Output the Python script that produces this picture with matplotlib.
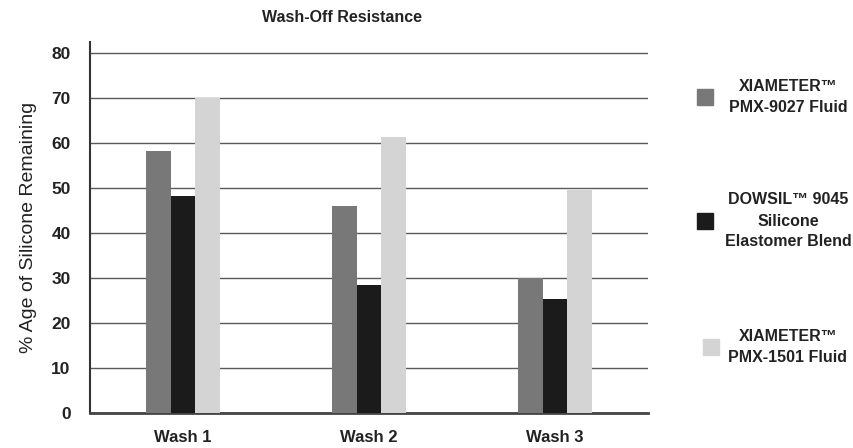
import matplotlib
matplotlib.use("Agg")
import matplotlib.pyplot as plt
from matplotlib.patches import Rectangle
from matplotlib import font_manager
import numpy as np

washes = ["Wash 1", "Wash 2", "Wash 3"]
pmx9027 = [58.2, 46.0, 29.9]
dowsil9045 = [48.2, 28.4, 25.3]
pmx1501 = [70.0, 61.2, 49.4]
series_names = ["XIAMETER\u2122\nPMX-9027 Fluid",
                "DOWSIL\u2122 9045\nSilicone\nElastomer Blend",
                "XIAMETER\u2122\nPMX-1501 Fluid"]
colors = ["#787878", "#1b1b1b", "#d4d4d4"]

names = {f.name for f in font_manager.fontManager.ttflist}
fam = "Liberation Sans Narrow" if "Liberation Sans Narrow" in names else "Liberation Sans"
plt.rcParams['font.family'] = [fam, 'DejaVu Sans']

fig = plt.figure(figsize=(8.54, 4.48), dpi=100)
ax = fig.add_axes([0.1054, 0.0781, 0.6534, 0.8288])

x = np.arange(len(washes))
w = 0.132
for i, vals in enumerate([pmx9027, dowsil9045, pmx1501]):
    ax.bar(x + (i - 1) * w, vals, width=w, color=colors[i], zorder=3)

ax.set_xlim(-0.5, 2.5)
ax.set_ylim(0, 82.4)
ax.set_yticks(range(0, 81, 10))
ax.set_xticks(x)
ax.set_xticklabels(washes, fontsize=12, fontweight='bold', color='#222222')
for lbl in ax.get_yticklabels():
    lbl.set_fontsize(12.5)
    lbl.set_fontweight('bold')
    lbl.set_color('#222222')
ax.tick_params(length=0, pad=14)
ax.tick_params(axis='x', pad=12)
ax.yaxis.grid(True, color='#5a5a5a', linewidth=1.0, zorder=0)
ax.set_axisbelow(True)
for s in ['top', 'right']:
    ax.spines[s].set_visible(False)
ax.spines['left'].set_color('#333333')
ax.spines['left'].set_linewidth(1.5)
ax.spines['bottom'].set_color('#444444')
ax.spines['bottom'].set_linewidth(2.0)

ax.set_ylabel("% Age of Silicone Remaining", fontsize=14, color='#222222', labelpad=10)
fig.text(0.40, 0.962, "Wash-Off Resistance", ha='center', va='center',
         fontsize=11.5, fontweight='bold', color='#222222')

# legend drawn by hand
leg_y = [97, 221, 347]
sq_x = [705, 705, 711]
for i in range(3):
    yf = 1 - leg_y[i] / 448
    fig.add_artist(Rectangle((sq_x[i] / 854 - 0.009, yf - 0.017), 0.018, 0.034,
                             transform=fig.transFigure, color=colors[i]))
    fig.text(788 / 854, yf, series_names[i], ha='center', va='center',
             fontsize=11.5, fontweight='bold', color='#222222', linespacing=1.5)

fig.savefig("out.png", dpi=100)
